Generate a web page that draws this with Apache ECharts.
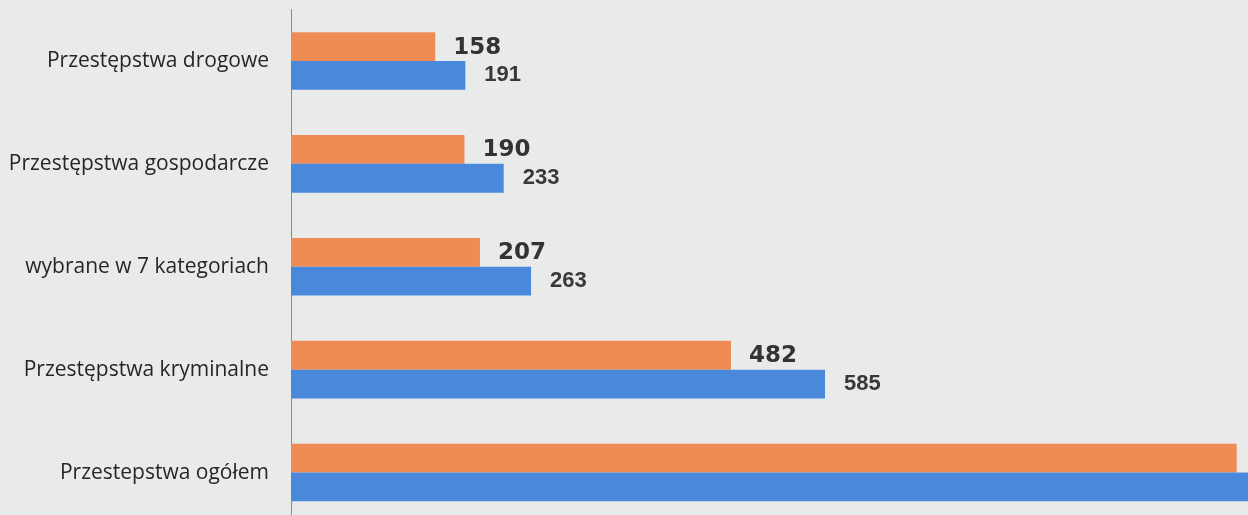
<!DOCTYPE html>
<html>
<head>
<meta charset="utf-8">
<script src="https://cdn.jsdelivr.net/npm/echarts@6/dist/echarts.min.js"></script>
<style>
html, body { margin: 0; padding: 0; background: #e9ebea; overflow: hidden; }
/* skan jest przycięty z prawej i od dołu, więc wykres jest większy niż okno */
#chart { width: 1500px; height: 524px; }
</style>
</head>
<body>
<div id="chart"></div>
<script>
// kategorie od góry do dołu
var categories = ['Przestępstwa drogowe', 'Przestępstwa gospodarcze', 'wybrane w 7 kategoriach', 'Przestępstwa kryminalne', 'Przestepstwa ogółem'];
// słupki pomarańczowe (górne) i niebieskie (dolne)
var orangeValues = [158, 190, 207, 482, 1036];
var blueValues = [191, 233, 263, 585, 1272];

var myChart = echarts.init(document.getElementById('chart'));

option = {
    backgroundColor: '#e9ebea',
    animation: false,
    grid: {
        left: 291,
        top: 9.5,
        right: 68,
        bottom: 0
    },
    xAxis: {
        type: 'value',
        min: 0,
        max: 1250,
        show: false,
        splitLine: { show: false }
    },
    yAxis: {
        type: 'category',
        data: categories,
        inverse: true,
        axisTick: { show: false },
        axisLine: {
            show: true,
            lineStyle: { color: '#8a8c8c', width: 1 }
        },
        axisLabel: {
            margin: 22,
            fontFamily: 'Open Sans',
            fontSize: 21,
            color: '#262626'
        }
    },
    series: [
        {
            type: 'bar',
            data: orangeValues,
            barGap: '0%',
            barCategoryGap: '44%',
            itemStyle: { color: '#ef8c55' },
            label: {
                show: true,
                position: 'right',
                distance: 18,
                offset: [0, 1],
                fontFamily: 'DejaVu Sans',
                fontWeight: 'bold',
                fontSize: 23,
                color: '#333333'
            }
        },
        {
            type: 'bar',
            data: blueValues,
            itemStyle: { color: '#4a88dc' },
            label: {
                show: true,
                position: 'right',
                distance: 19,
                fontFamily: 'Liberation Sans',
                fontWeight: 'bold',
                fontSize: 22,
                color: '#383838'
            }
        }
    ]
};

myChart.setOption(option);
</script>
</body>
</html>
